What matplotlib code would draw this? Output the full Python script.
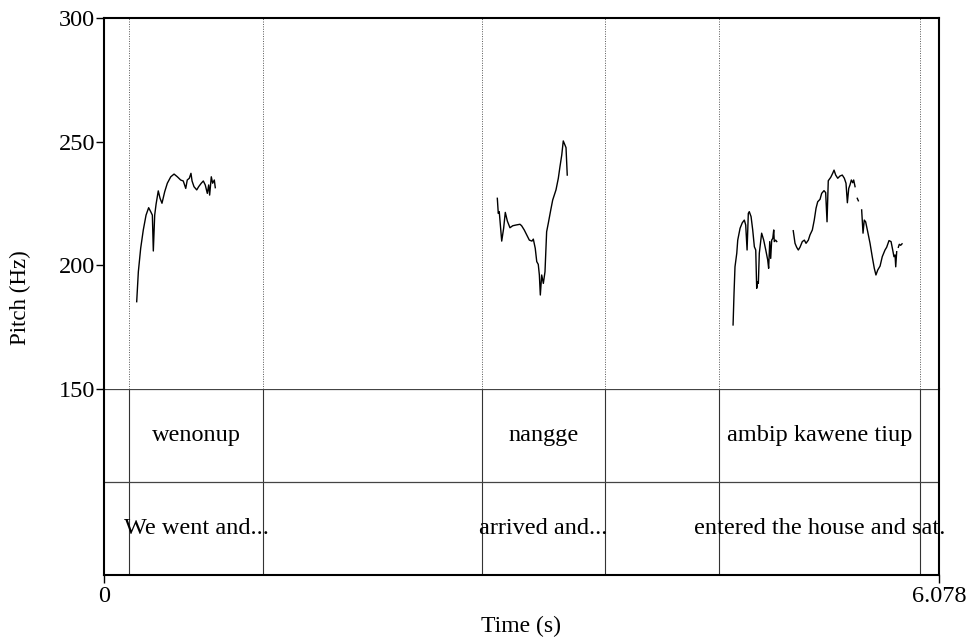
import numpy as np
import matplotlib
matplotlib.use("Agg")
import matplotlib.pyplot as plt

plt.rcParams['font.family'] = ['Liberation Serif', 'DejaVu Serif']

# 音高曲线 (s, Hz)，各段之间用 nan 断开
seg1_t = [0.238, 0.250, 0.267, 0.286, 0.306, 0.325, 0.340, 0.352, 0.359, 0.369,
          0.379, 0.395, 0.408, 0.422, 0.442, 0.461, 0.486, 0.510, 0.534, 0.558,
          0.577, 0.595, 0.606, 0.621, 0.633, 0.641, 0.655, 0.675, 0.689, 0.708,
          0.723, 0.737, 0.752, 0.762, 0.769, 0.781, 0.791, 0.803, 0.810]
seg1_f = [185.3, 197.4, 206.9, 214.3, 220.3, 223.3, 221.7, 220.3, 205.8, 220.3,
          224.7, 230.1, 227.1, 225.1, 229.8, 233.2, 235.8, 236.9, 235.8, 234.5,
          234.1, 231.1, 234.5, 235.2, 237.2, 234.1, 231.8, 230.5, 231.8, 233.2,
          234.1, 232.5, 229.1, 232.5, 228.4, 235.8, 233.2, 234.5, 231.4]

seg2_t = [2.863, 2.870, 2.877, 2.895, 2.909, 2.921, 2.936, 2.955, 2.975, 2.999,
          3.028, 3.040, 3.059, 3.077, 3.096, 3.115, 3.125, 3.139, 3.150, 3.161,
          3.169, 3.176, 3.186, 3.198, 3.210, 3.222, 3.234, 3.252, 3.266, 3.290,
          3.307, 3.319, 3.332, 3.343, 3.363, 3.372]
seg2_f = [227.1, 221.0, 221.7, 209.8, 215.0, 221.4, 217.9, 215.2, 216.0, 216.3,
          216.6, 216.0, 214.3, 212.3, 210.2, 209.8, 210.6, 206.9, 201.5, 200.4,
          196.1, 188.0, 196.1, 192.7, 197.4, 213.6, 217.0, 222.4, 226.4, 230.5,
          235.2, 239.9, 244.6, 250.3, 247.6, 236.5]

seg3a_t = [4.579, 4.586, 4.593, 4.606, 4.613, 4.630, 4.646, 4.661, 4.671, 4.681,
           4.690, 4.697, 4.710, 4.722, 4.734, 4.744, 4.751, 4.758, 4.763, 4.770,
           4.787, 4.802, 4.817, 4.831, 4.838, 4.846, 4.853, 4.860, 4.868, 4.875,
           4.879, 4.889, 4.897]
seg3a_f = [175.9, 188.7, 199.4, 204.9, 210.2, 215.0, 217.2, 218.3, 216.3, 206.2,
           221.0, 221.7, 219.7, 214.3, 207.5, 206.2, 190.7, 193.4, 192.7, 204.9,
           213.0, 210.2, 206.2, 202.2, 198.8, 209.6, 202.8, 210.2, 210.9, 214.3,
           209.6, 210.2, 209.6]

seg3b_t = [5.017, 5.030, 5.042, 5.054, 5.066, 5.083, 5.098, 5.110, 5.127, 5.139,
           5.156, 5.170, 5.183, 5.195, 5.212, 5.224, 5.241, 5.253, 5.263, 5.272,
           5.290, 5.304, 5.314, 5.326, 5.341, 5.357, 5.374, 5.389, 5.401, 5.411,
           5.421, 5.430, 5.440, 5.450, 5.457, 5.467]
seg3b_f = [214.0, 208.9, 207.3, 206.2, 207.3, 209.6, 210.2, 208.9, 210.2, 212.3,
           214.3, 218.3, 223.1, 225.7, 226.7, 229.1, 230.2, 229.4, 217.6, 234.2,
           235.6, 237.2, 238.5, 236.5, 235.2, 236.1, 236.5, 235.2, 233.2, 225.3,
           231.1, 232.5, 234.5, 233.4, 234.5, 231.8]

seg3c_t = [5.483, 5.491]
seg3c_f = [227.1, 226.1]

seg3d_t = [5.515, 5.525, 5.534, 5.544, 5.559, 5.576, 5.592, 5.607, 5.619, 5.632,
           5.649, 5.665, 5.685, 5.697, 5.714, 5.729, 5.741, 5.750, 5.758, 5.763,
           5.770]
seg3d_f = [222.4, 213.0, 218.3, 217.6, 213.6, 208.9, 203.5, 198.8, 196.1, 198.1,
           199.7, 203.5, 206.2, 207.3, 210.0, 209.6, 206.2, 203.5, 204.2, 199.4,
           205.5]

seg3e_t = [5.782, 5.789, 5.799, 5.809]
seg3e_f = [207.3, 208.5, 208.1, 208.7]

segments = [(seg1_t, seg1_f), (seg2_t, seg2_f), (seg3a_t, seg3a_f),
            (seg3b_t, seg3b_f), (seg3c_t, seg3c_f), (seg3d_t, seg3d_f),
            (seg3e_t, seg3e_f)]

t_total = 6.078

# TextGrid 两层
interval_start = [0.182, 2.751, 4.477]
interval_end = [1.157, 3.647, 5.940]
words = ["wenonup", "nangge", "ambip kawene tiup"]
gloss = ["We went and...", "arrived and...", "entered the house and sat."]

fig = plt.figure(figsize=(9.69, 6.39), dpi=100)
L, W = 104 / 969, 835 / 969
ax = fig.add_axes([L, (639 - 389) / 639, W, 371 / 639])
tg = fig.add_axes([L, (639 - 575) / 639, W, 186 / 639])

for t, f in segments:
    ax.plot(t, f, color='black', lw=1.0)

bounds = sorted(set(interval_start + interval_end))
for b in bounds:
    ax.axvline(b, color='#555555', lw=0.7, ls=(0, (1, 1.5)))
    tg.axvline(b, color='#333333', lw=0.8)

ax.set_xlim(0, t_total)
ax.set_ylim(150, 300)
ax.set_yticks([150, 200, 250, 300])
ax.set_xticks([])
ax.tick_params(axis='y', direction='out', length=6, width=1, labelsize=17.5, pad=0.5)
for s in ['left', 'top', 'right']:
    ax.spines[s].set_linewidth(1.5)
ax.spines['bottom'].set_visible(False)

tg.set_xlim(0, t_total)
tg.set_ylim(0, 2)
tg.axhline(1, color='#444444', lw=0.9)
tg.axhline(2, color='#444444', lw=0.9)
for a, b, w, g in zip(interval_start, interval_end, words, gloss):
    tg.text((a + b) / 2, 1.5, w, ha='center', va='center', fontsize=17.5)
    tg.text((a + b) / 2, 0.5, g, ha='center', va='center', fontsize=17.5)
tg.set_yticks([])
tg.set_xticks([0, t_total])
tg.set_xticklabels(['0', '6.078'])
tg.tick_params(axis='x', direction='out', length=6, width=1, labelsize=17.5, pad=2)
tg.spines['top'].set_visible(False)
for s in ['left', 'bottom', 'right']:
    tg.spines[s].set_linewidth(1.5)

fig.text(521 / 969, 1 - 626 / 639, 'Time (s)', ha='center', va='center', fontsize=17)
fig.text(20 / 969, 1 - 298 / 639, 'Pitch (Hz)', ha='center', va='center',
         rotation=90, fontsize=16.5)

fig.savefig('out.png', dpi=100)
